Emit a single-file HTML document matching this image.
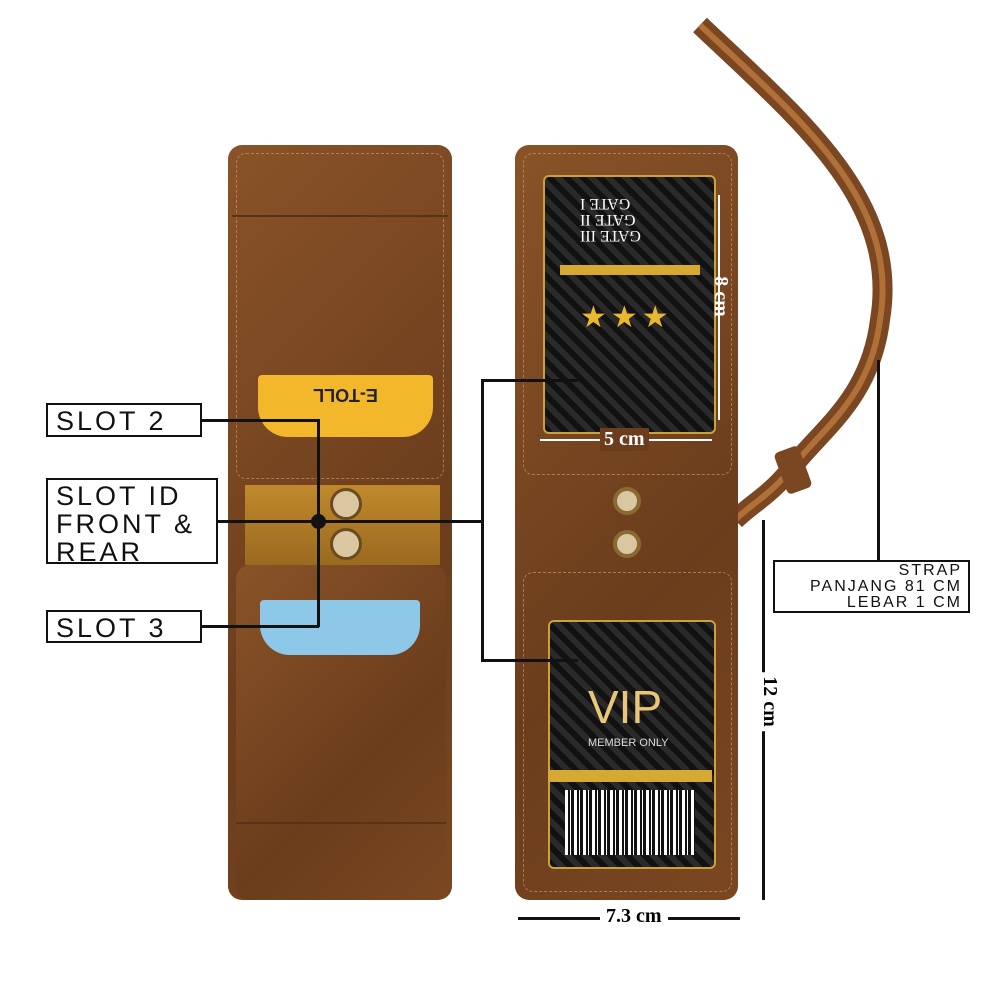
<!DOCTYPE html>
<html><head><meta charset="utf-8"><style>
body{margin:0;width:1000px;height:1000px;background:#fff;position:relative;overflow:hidden;font-family:"Liberation Sans",sans-serif}
.a{position:absolute}
.lbl{position:absolute;border:2px solid #111;background:#fff;color:#111;font-size:27px;letter-spacing:3px;line-height:28px;padding:2px 8px;box-sizing:border-box}
.brown{background:linear-gradient(135deg,#8a5328,#6b3d1c 60%,#7a4721);border-radius:14px}
.seam{position:absolute;border:1px dashed rgba(220,170,120,.55);border-radius:10px}
.ln{position:absolute;background:#111}
</style></head><body>
<!-- strap -->
<svg class="a" style="left:0;top:0" width="1000" height="1000">
<path d="M700 25 C800 120 900 200 880 320 C870 400 820 430 790 470 C770 495 750 505 735 520" fill="none" stroke="#7a4722" stroke-width="20"/>
<path d="M700 25 C800 120 900 200 880 320 C870 400 820 430 790 470 C770 495 750 505 735 520" fill="none" stroke="#b07038" stroke-width="6"/>
<rect x="780" y="448" width="26" height="44" rx="5" fill="#7a4722" transform="rotate(-20 793 470)"/>
</svg>
<!-- left wallet -->
<div class="a brown" style="left:228px;top:145px;width:224px;height:755px"></div>
<div class="seam" style="left:236px;top:153px;width:206px;height:324px"></div>
<div class="ln" style="left:232px;top:215px;width:216px;height:2px;background:#5a3215"></div>
<div class="a" style="left:245px;top:485px;width:195px;height:80px;background:linear-gradient(#c0892c,#9a6a20)"></div>
<div class="a brown" style="left:236px;top:565px;width:210px;height:335px"></div>
<div class="ln" style="left:236px;top:822px;width:210px;height:2px;background:#5a3215"></div>
<div class="a" style="left:330px;top:488px;width:26px;height:26px;border-radius:50%;background:#d8c7a0;border:3px solid #6b4a20"></div>
<div class="a" style="left:330px;top:528px;width:26px;height:26px;border-radius:50%;background:#d8c7a0;border:3px solid #6b4a20"></div>
<!-- etoll card -->
<div class="a" style="left:258px;top:375px;width:175px;height:62px;background:#f2b72a;border-radius:30px 30px 4px 4px;color:#223;font-weight:bold;font-size:18px;text-align:center;line-height:85px;transform:rotate(180deg)">E-TOLL</div>
<div class="a" style="left:260px;top:600px;width:160px;height:55px;background:#8ec8e8;border-radius:4px 4px 30px 30px"></div>
<!-- right wallet -->
<div class="a brown" style="left:515px;top:145px;width:223px;height:755px"></div>
<div class="seam" style="left:523px;top:153px;width:207px;height:320px"></div>
<div class="seam" style="left:523px;top:572px;width:207px;height:318px"></div>
<div class="a" style="left:543px;top:175px;width:169px;height:255px;background:repeating-linear-gradient(45deg,#111 0 6px,#2a2a2a 6px 12px);border:2px solid #c9a23a;border-radius:6px"></div>
<div class="a" style="left:580px;top:300px;color:#e8b830;font-size:30px;letter-spacing:4px">★★★</div>
<div class="a" style="left:560px;top:265px;width:140px;height:10px;background:#d6a932"></div>
<div class="a" style="left:580px;top:195px;color:#fff;font-family:'Liberation Serif',serif;font-size:16px;line-height:16px;text-align:right;transform:rotate(180deg)">GATE III<br>GATE II<br>GATE I</div>
<div class="a" style="left:548px;top:620px;width:164px;height:245px;background:repeating-linear-gradient(45deg,#111 0 6px,#2a2a2a 6px 12px);border:2px solid #c9a23a;border-radius:6px"></div>
<div class="a" style="left:588px;top:680px;color:#e8c878;font-size:46px">VIP</div>
<div class="a" style="left:588px;top:737px;color:#ddd;font-size:11px">MEMBER ONLY</div>
<div class="a" style="left:548px;top:770px;width:164px;height:12px;background:#d6a932"></div>
<div class="a" style="left:565px;top:790px;width:130px;height:65px;background:repeating-linear-gradient(90deg,#fff 0 3px,#111 3px 5px,#fff 5px 6px,#111 6px 9px)"></div>
<div class="a" style="left:613px;top:487px;width:20px;height:20px;border-radius:50%;background:#d8c7a0;border:4px solid #8a6a30"></div>
<div class="a" style="left:613px;top:530px;width:20px;height:20px;border-radius:50%;background:#d8c7a0;border:4px solid #8a6a30"></div>
<!-- labels -->
<div class="lbl" style="left:46px;top:403px;width:156px;height:34px">SLOT 2</div>
<div class="lbl" style="left:46px;top:478px;width:172px;height:86px">SLOT ID<br>FRONT &amp;<br>REAR</div>
<div class="lbl" style="left:46px;top:610px;width:156px;height:33px">SLOT 3</div>
<div class="lbl" style="left:773px;top:560px;width:197px;height:53px;font-size:16px;line-height:16px;text-align:right;letter-spacing:2px;padding:1px 6px">STRAP<br>PANJANG 81 CM<br>LEBAR 1 CM</div>
<div class="ln" style="left:202px;top:419px;width:117px;height:3px"></div>
<div class="ln" style="left:317px;top:419px;width:3px;height:208px"></div>
<div class="ln" style="left:202px;top:625px;width:117px;height:3px"></div>
<div class="ln" style="left:218px;top:520px;width:265px;height:3px"></div>
<div class="a" style="left:311px;top:514px;width:15px;height:15px;border-radius:50%;background:#111"></div>
<div class="ln" style="left:481px;top:379px;width:3px;height:283px"></div>
<div class="ln" style="left:481px;top:379px;width:97px;height:3px"></div>
<div class="ln" style="left:481px;top:659px;width:97px;height:3px"></div>
<div class="ln" style="left:877px;top:360px;width:3px;height:200px"></div>
<!-- dimensions -->
<div class="ln" style="left:718px;top:195px;width:2px;height:225px;background:#fff"></div>
<div class="a" style="left:700px;top:285px;color:#fff;font-family:'Liberation Serif',serif;font-weight:bold;font-size:20px;transform:rotate(90deg)">8 cm</div>
<div class="ln" style="left:540px;top:439px;width:172px;height:2px;background:#fff"></div>
<div class="a" style="left:600px;top:428px;color:#fff;background:#6b3d1c;padding:0 4px;font-family:'Liberation Serif',serif;font-weight:bold;font-size:20px">5 cm</div>
<div class="ln" style="left:762px;top:520px;width:3px;height:380px"></div>
<div class="a" style="left:740px;top:690px;background:#fff;padding:0 4px;font-family:'Liberation Serif',serif;font-weight:bold;font-size:20px;transform:rotate(90deg)">12 cm</div>
<div class="ln" style="left:518px;top:917px;width:222px;height:3px"></div>
<div class="a" style="left:600px;top:905px;background:#fff;padding:0 6px;font-family:'Liberation Serif',serif;font-weight:bold;font-size:20px">7.3 cm</div>
</body></html>
